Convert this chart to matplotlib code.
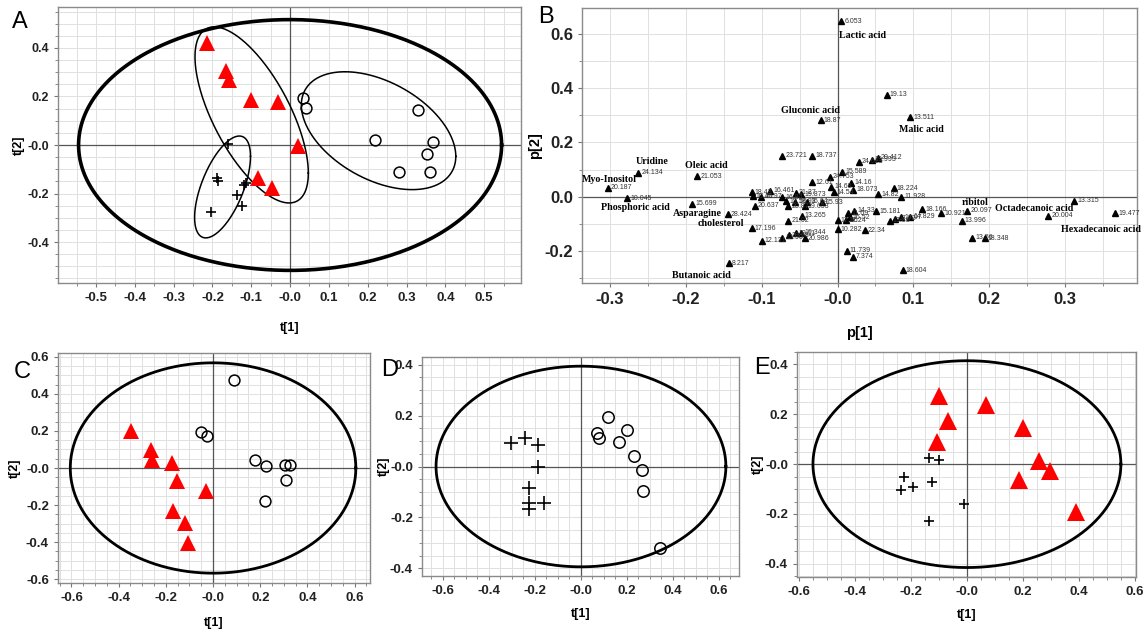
"""PCA score / loading plots (panels A-E)."""

import numpy as np
import matplotlib
matplotlib.use("Agg")
import matplotlib.pyplot as plt
from matplotlib.ticker import FuncFormatter, MultipleLocator

plt.rcParams["font.family"] = ["Liberation Sans", "DejaVu Sans"]

FIG_W, FIG_H = 1145, 630
RED = "#ff0000"

# ---------------- Panel A: all three groups ----------------
a_tri_x = [-0.213, -0.165, -0.157, -0.101, -0.030, 0.020, -0.082, -0.046]
a_tri_y = [0.420, 0.305, 0.268, 0.187, 0.176, -0.005, -0.136, -0.177]
a_circ_x = [0.032, 0.041, 0.219, 0.329, 0.369, 0.352, 0.281, 0.361]
a_circ_y = [0.194, 0.153, 0.022, 0.143, 0.011, -0.036, -0.113, -0.111]
a_plus_x = [-0.161, -0.189, -0.186, -0.113, -0.118, -0.137, -0.125, -0.204]
a_plus_y = [0.005, -0.136, -0.147, -0.157, -0.164, -0.205, -0.253, -0.275]
# group ellipses: centre x, centre y, half extent x, half extent y, tilt (rho)
a_group_cx = [-0.099, 0.228, -0.174]
a_group_cy = [0.124, 0.059, -0.173]
a_group_sx = [0.146, 0.199, 0.072]
a_group_sy = [0.363, 0.243, 0.210]
a_group_rho = [-0.66, -0.435, 0.60]
a_t2 = (0.545, 0.517)

# ---------------- Panel B: loadings ----------------
b_ids = ["6.053", "19.13", "13.511", "18.87", "23.721", "18.737", "24.613",
         "19.993", "20.412", "15.589", "24.753", "12.61", "14.16", "14.69",
         "18.073", "14.54", "18.224", "14.82", "11.928", "24.134", "20.187",
         "10.045", "21.053", "15.699", "28.424", "17.196", "12.131", "8.217",
         "18.43", "10.40", "16.461", "15.97", "20.637", "16.84", "19.56",
         "20.87", "21.27", "18.93", "19.873", "16.64", "19.653", "15.93",
         "13.265", "21.02", "12.90", "20.18", "19.11", "10.344", "20.986",
         "10.282", "22.34", "11.739", "7.374", "18.604", "17.36", "14.33",
         "15.181", "11.69", "12.24", "16.52", "13.88", "17.72", "14.07",
         "14.829", "18.166", "10.921", "20.097", "13.996", "13.56", "18.348",
         "13.315", "20.004", "19.477"]
b_x = [0.005, 0.065, 0.096, -0.022, -0.073, -0.033, 0.028,
       0.045, 0.053, 0.006, -0.010, -0.033, 0.018, -0.008,
       0.021, -0.005, 0.074, 0.054, 0.084, -0.263, -0.303,
       -0.277, -0.185, -0.192, -0.145, -0.113, -0.100, -0.143,
       -0.113, -0.112, -0.089, -0.101, -0.109, -0.073, -0.068,
       -0.065, -0.055, -0.056, -0.048, -0.040, -0.043, -0.020,
       -0.047, -0.065, -0.073, -0.064, -0.055, -0.048, -0.043,
       0.000, 0.036, 0.012, 0.020, 0.086, 0.000, 0.022,
       0.051, 0.014, 0.011, 0.016, 0.069, 0.076, 0.084,
       0.096, 0.112, 0.137, 0.171, 0.164, 0.178, 0.194,
       0.312, 0.278, 0.366]
b_y = [0.646, 0.375, 0.292, 0.282, 0.150, 0.150, 0.129,
       0.137, 0.143, 0.092, 0.074, 0.053, 0.051, 0.037,
       0.025, 0.016, 0.031, 0.010, 0.000, 0.088, 0.033,
       -0.006, 0.076, -0.025, -0.064, -0.115, -0.162, -0.245,
       0.016, 0.002, 0.022, 0.000, -0.033, -0.002, -0.016,
       -0.034, 0.015, -0.018, 0.010, -0.018, -0.034, -0.021,
       -0.070, -0.088, -0.150, -0.141, -0.135, -0.132, -0.152,
       -0.120, -0.123, -0.199, -0.221, -0.270, -0.086, -0.051,
       -0.054, -0.061, -0.086, -0.076, -0.088, -0.080, -0.076,
       -0.074, -0.045, -0.061, -0.051, -0.088, -0.150, -0.153,
       -0.015, -0.070, -0.061]
b_names = ["Lactic acid", "Malic acid", "Gluconic acid", "Uridine",
           "Myo-Inositol", "Phosphoric acid", "Oleic acid", "Asparagine",
           "cholesterol", "Butanoic acid", "ribitol", "Octadecanoic acid",
           "Hexadecanoic acid"]
b_name_x = [0.033, 0.110, -0.036, -0.245, -0.301, -0.266, -0.173, -0.185,
            -0.154, -0.180, 0.182, 0.259, 0.347]
b_name_y = [0.594, 0.248, 0.316, 0.129, 0.065, -0.039, 0.114, -0.061,
            -0.098, -0.288, -0.022, -0.043, -0.120]

# ---------------- Panel C ----------------
c_tri_x = [-0.346, -0.261, -0.258, -0.174, -0.151, -0.028, -0.169, -0.120, -0.106]
c_tri_y = [0.198, 0.099, 0.045, 0.027, -0.072, -0.126, -0.234, -0.294, -0.402]
c_circ_x = [0.090, -0.049, -0.025, 0.177, 0.226, 0.306, 0.325, 0.308, 0.219]
c_circ_y = [0.477, 0.193, 0.175, 0.045, 0.009, 0.014, 0.018, -0.063, -0.180]
c_t2 = (0.605, 0.567)

# ---------------- Panel D ----------------
d_plus_x = [-0.304, -0.245, -0.188, -0.188, -0.225, -0.225, -0.225, -0.162]
d_plus_y = [0.092, 0.112, 0.086, 0.000, -0.083, -0.145, -0.165, -0.142]
d_circ_x = [0.119, 0.070, 0.077, 0.200, 0.164, 0.232, 0.265, 0.268, 0.345]
d_circ_y = [0.195, 0.132, 0.112, 0.145, 0.096, 0.040, -0.013, -0.095, -0.319]
d_t2 = (0.630, 0.394)

# ---------------- Panel E ----------------
e_tri_x = [-0.098, -0.068, -0.107, 0.067, 0.202, 0.258, 0.298, 0.185, 0.390]
e_tri_y = [0.275, 0.172, 0.087, 0.239, 0.145, 0.011, -0.029, -0.063, -0.194]
e_plus_x = [-0.137, -0.098, -0.223, -0.236, -0.193, -0.123, -0.012, -0.135]
e_plus_y = [0.024, 0.015, -0.052, -0.103, -0.090, -0.070, -0.161, -0.228]
e_t2 = (0.550, 0.415)


def px_axes(fig, left, top, right, bottom):
    """Add axes using pixel box of the original picture."""
    return fig.add_axes([left / FIG_W, 1 - bottom / FIG_H,
                         (right - left) / FIG_W, (bottom - top) / FIG_H])


def tick_fmt(zero="-0.0"):
    return FuncFormatter(lambda v, _: zero if abs(v) < 1e-9 else f"{v:.1f}")


def style_axes(ax, xlim, ylim, xmajor, ymajor, xminor, yminor,
               fs=9.5, yzero="-0.0"):
    ax.set_xlim(*xlim)
    ax.set_ylim(*ylim)
    ax.xaxis.set_major_locator(MultipleLocator(xmajor))
    ax.yaxis.set_major_locator(MultipleLocator(ymajor))
    ax.xaxis.set_minor_locator(MultipleLocator(xminor))
    ax.yaxis.set_minor_locator(MultipleLocator(yminor))
    ax.xaxis.set_major_formatter(tick_fmt())
    ax.yaxis.set_major_formatter(tick_fmt(yzero))
    ax.grid(which="both", color="#e0e0e0", linewidth=0.7)
    ax.set_axisbelow(True)
    ax.tick_params(which="both", direction="out", color="#777777",
                   labelsize=fs, labelcolor="#222222")
    ax.tick_params(which="major", length=3)
    ax.tick_params(which="minor", length=2)
    for lbl in ax.get_xticklabels() + ax.get_yticklabels():
        lbl.set_fontweight("bold")
    for sp in ax.spines.values():
        sp.set_color("#8a8a8a")
        sp.set_linewidth(1.0)
    ax.axhline(0, color="#555555", linewidth=0.9, zorder=1)
    ax.axvline(0, color="#555555", linewidth=0.9, zorder=1)


def draw_ellipse(ax, cx, cy, sx, sy, rho=0.0, lw=1.0):
    t = np.linspace(0, 2 * np.pi, 400)
    x = cx + sx * np.cos(t)
    y = cy + sy * (rho * np.cos(t) + np.sqrt(1 - rho ** 2) * np.sin(t))
    ax.plot(x, y, color="black", linewidth=lw, zorder=2)


def plot_tri(ax, x, y, ms):
    ax.plot(x, y, "^", color=RED, markersize=ms, markeredgewidth=0, zorder=4)


def plot_circ(ax, x, y, ms):
    ax.plot(x, y, "o", markerfacecolor="none", markeredgecolor="black",
            markersize=ms, markeredgewidth=1.1, zorder=4)


def plot_plus(ax, x, y, ms):
    ax.plot(x, y, "+", color="black", markersize=ms, markeredgewidth=1.2, zorder=4)


def labels(ax, xl, yl, fs=9, xpad=10, ypad=6):
    ax.set_xlabel(xl, fontsize=fs, fontweight="bold", labelpad=xpad)
    ax.set_ylabel(yl, fontsize=fs, fontweight="bold", labelpad=ypad)


fig = plt.figure(figsize=(FIG_W / 100, FIG_H / 100), dpi=100)

# Panel A
ax_a = px_axes(fig, 58, 7, 521, 283)
style_axes(ax_a, (-0.598, 0.595), (-0.569, 0.569), 0.1, 0.2, 0.05, 0.05)
ax_a.tick_params(axis="y", labelsize=9)
draw_ellipse(ax_a, 0, 0, a_t2[0], a_t2[1], lw=2.6)
for i in range(3):
    draw_ellipse(ax_a, a_group_cx[i], a_group_cy[i], a_group_sx[i],
                 a_group_sy[i], a_group_rho[i], lw=1.1)
plot_tri(ax_a, a_tri_x, a_tri_y, 11)
plot_circ(ax_a, a_circ_x, a_circ_y, 7.8)
plot_plus(ax_a, a_plus_x, a_plus_y, 7)
labels(ax_a, "t[1]", "t[2]", xpad=13, ypad=2)

# Panel B
ax_b = px_axes(fig, 582, 8, 1137, 283)
style_axes(ax_b, (-0.337, 0.395), (-0.317, 0.694), 0.1, 0.2, 0.05, 0.1,
           fs=12, yzero="0.0")
ax_b.plot(b_x, b_y, "^", color="black", markersize=4.5, zorder=4)
for lbl, x, y in zip(b_ids, b_x, b_y):
    ax_b.annotate(lbl, (x, y), xytext=(2.2, 0), textcoords="offset points",
                  fontsize=5, color="#333333", va="center", ha="left", zorder=5)
for name, x, y in zip(b_names, b_name_x, b_name_y):
    ax_b.text(x, y, name, fontsize=7.2, fontweight="bold", ha="center",
              va="center", family=["Liberation Serif", "DejaVu Serif"], zorder=6)
labels(ax_b, "p[1]", "p[2]", fs=10.5, xpad=14, ypad=2)

# Panel C
ax_c = px_axes(fig, 58, 353, 370, 583)
style_axes(ax_c, (-0.657, 0.665), (-0.62, 0.62), 0.2, 0.2, 0.05, 0.05)
draw_ellipse(ax_c, 0, 0, c_t2[0], c_t2[1], lw=2.0)
plot_tri(ax_c, c_tri_x, c_tri_y, 12)
plot_circ(ax_c, c_circ_x, c_circ_y, 7.8)
labels(ax_c, "t[1]", "t[2]", xpad=9, ypad=4)

# Panel D
ax_d = px_axes(fig, 422, 357, 739, 576)
style_axes(ax_d, (-0.691, 0.687), (-0.43, 0.43), 0.2, 0.2, 0.05, 0.05)
draw_ellipse(ax_d, 0, 0, d_t2[0], d_t2[1], lw=2.0)
plot_plus(ax_d, d_plus_x, d_plus_y, 9.5)
plot_circ(ax_d, d_circ_x, d_circ_y, 8.2)
labels(ax_d, "t[1]", "t[2]", xpad=8, ypad=0)

# Panel E
ax_e = px_axes(fig, 797, 352, 1136, 577)
style_axes(ax_e, (-0.607, 0.604), (-0.453, 0.45), 0.2, 0.2, 0.05, 0.05)
draw_ellipse(ax_e, 0, 0, e_t2[0], e_t2[1], lw=2.0)
plot_tri(ax_e, e_tri_x, e_tri_y, 13)
plot_plus(ax_e, e_plus_x, e_plus_y, 7.5)
labels(ax_e, "t[1]", "t[2]", xpad=8, ypad=1)

# Panel letters
for letter, x, y in [("A", 20, 22), ("B", 546, 17), ("C", 22, 372),
                     ("D", 390, 370), ("E", 762, 368)]:
    fig.text(x / FIG_W, 1 - y / FIG_H, letter, fontsize=17,
             ha="center", va="center")

fig.savefig("out.png", dpi=100)
plt.close(fig)
